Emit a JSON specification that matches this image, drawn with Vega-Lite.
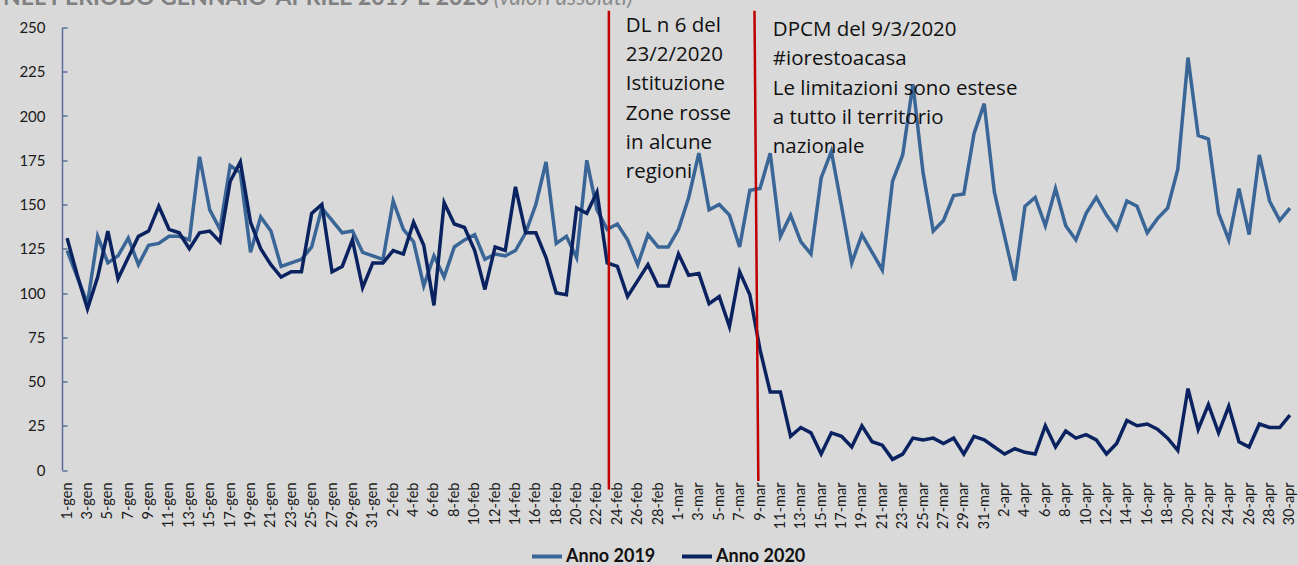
{
  "$schema": "https://vega.github.io/schema/vega-lite/v6.json",
  "width": 1233,
  "height": 442.5,
  "autosize": {"type": "none"},
  "padding": {"left": 62, "top": 27.5, "right": 3, "bottom": 95},
  "background": "#D9D9D9",
  "config": {"view": {"stroke": null}, "font": "Lato", "axisX": {"labelOverlap": false}},
  "datasets": {
    "serie": [
      {"giorno": "2020-01-01", "Anno 2019": 124, "Anno 2020": 131},
      {"giorno": "2020-01-02", "Anno 2019": 109, "Anno 2020": 110},
      {"giorno": "2020-01-03", "Anno 2019": 94, "Anno 2020": 91},
      {"giorno": "2020-01-04", "Anno 2019": 132, "Anno 2020": 109},
      {"giorno": "2020-01-05", "Anno 2019": 117, "Anno 2020": 135},
      {"giorno": "2020-01-06", "Anno 2019": 121, "Anno 2020": 108},
      {"giorno": "2020-01-07", "Anno 2019": 131, "Anno 2020": 120},
      {"giorno": "2020-01-08", "Anno 2019": 116, "Anno 2020": 132},
      {"giorno": "2020-01-09", "Anno 2019": 127, "Anno 2020": 135},
      {"giorno": "2020-01-10", "Anno 2019": 128, "Anno 2020": 149},
      {"giorno": "2020-01-11", "Anno 2019": 132, "Anno 2020": 136},
      {"giorno": "2020-01-12", "Anno 2019": 132, "Anno 2020": 134},
      {"giorno": "2020-01-13", "Anno 2019": 130, "Anno 2020": 125},
      {"giorno": "2020-01-14", "Anno 2019": 177, "Anno 2020": 134},
      {"giorno": "2020-01-15", "Anno 2019": 147, "Anno 2020": 135},
      {"giorno": "2020-01-16", "Anno 2019": 136, "Anno 2020": 129},
      {"giorno": "2020-01-17", "Anno 2019": 172, "Anno 2020": 163},
      {"giorno": "2020-01-18", "Anno 2019": 168, "Anno 2020": 174},
      {"giorno": "2020-01-19", "Anno 2019": 123, "Anno 2020": 140},
      {"giorno": "2020-01-20", "Anno 2019": 143, "Anno 2020": 125},
      {"giorno": "2020-01-21", "Anno 2019": 135, "Anno 2020": 116},
      {"giorno": "2020-01-22", "Anno 2019": 115, "Anno 2020": 109},
      {"giorno": "2020-01-23", "Anno 2019": 117, "Anno 2020": 112},
      {"giorno": "2020-01-24", "Anno 2019": 119, "Anno 2020": 112},
      {"giorno": "2020-01-25", "Anno 2019": 126, "Anno 2020": 145},
      {"giorno": "2020-01-26", "Anno 2019": 148, "Anno 2020": 150},
      {"giorno": "2020-01-27", "Anno 2019": 141, "Anno 2020": 112},
      {"giorno": "2020-01-28", "Anno 2019": 134, "Anno 2020": 115},
      {"giorno": "2020-01-29", "Anno 2019": 135, "Anno 2020": 130},
      {"giorno": "2020-01-30", "Anno 2019": 123, "Anno 2020": 103},
      {"giorno": "2020-01-31", "Anno 2019": 121, "Anno 2020": 117},
      {"giorno": "2020-02-01", "Anno 2019": 119, "Anno 2020": 117},
      {"giorno": "2020-02-02", "Anno 2019": 152, "Anno 2020": 124},
      {"giorno": "2020-02-03", "Anno 2019": 136, "Anno 2020": 122},
      {"giorno": "2020-02-04", "Anno 2019": 129, "Anno 2020": 140},
      {"giorno": "2020-02-05", "Anno 2019": 104, "Anno 2020": 127},
      {"giorno": "2020-02-06", "Anno 2019": 121, "Anno 2020": 93},
      {"giorno": "2020-02-07", "Anno 2019": 109, "Anno 2020": 151},
      {"giorno": "2020-02-08", "Anno 2019": 126, "Anno 2020": 139},
      {"giorno": "2020-02-09", "Anno 2019": 130, "Anno 2020": 137},
      {"giorno": "2020-02-10", "Anno 2019": 133, "Anno 2020": 124},
      {"giorno": "2020-02-11", "Anno 2019": 119, "Anno 2020": 102},
      {"giorno": "2020-02-12", "Anno 2019": 122, "Anno 2020": 126},
      {"giorno": "2020-02-13", "Anno 2019": 121, "Anno 2020": 124},
      {"giorno": "2020-02-14", "Anno 2019": 124, "Anno 2020": 160},
      {"giorno": "2020-02-15", "Anno 2019": 134, "Anno 2020": 134},
      {"giorno": "2020-02-16", "Anno 2019": 150, "Anno 2020": 134},
      {"giorno": "2020-02-17", "Anno 2019": 174, "Anno 2020": 120},
      {"giorno": "2020-02-18", "Anno 2019": 128, "Anno 2020": 100},
      {"giorno": "2020-02-19", "Anno 2019": 132, "Anno 2020": 99},
      {"giorno": "2020-02-20", "Anno 2019": 120, "Anno 2020": 148},
      {"giorno": "2020-02-21", "Anno 2019": 175, "Anno 2020": 145},
      {"giorno": "2020-02-22", "Anno 2019": 147, "Anno 2020": 157},
      {"giorno": "2020-02-23", "Anno 2019": 136, "Anno 2020": 117},
      {"giorno": "2020-02-24", "Anno 2019": 139, "Anno 2020": 115},
      {"giorno": "2020-02-25", "Anno 2019": 130, "Anno 2020": 98},
      {"giorno": "2020-02-26", "Anno 2019": 116, "Anno 2020": 107},
      {"giorno": "2020-02-27", "Anno 2019": 133, "Anno 2020": 116},
      {"giorno": "2020-02-28", "Anno 2019": 126, "Anno 2020": 104},
      {"giorno": "2020-02-29", "Anno 2019": 126, "Anno 2020": 104},
      {"giorno": "2020-03-01", "Anno 2019": 136, "Anno 2020": 122},
      {"giorno": "2020-03-02", "Anno 2019": 154, "Anno 2020": 110},
      {"giorno": "2020-03-03", "Anno 2019": 179, "Anno 2020": 111},
      {"giorno": "2020-03-04", "Anno 2019": 147, "Anno 2020": 94},
      {"giorno": "2020-03-05", "Anno 2019": 150, "Anno 2020": 98},
      {"giorno": "2020-03-06", "Anno 2019": 144, "Anno 2020": 81},
      {"giorno": "2020-03-07", "Anno 2019": 126, "Anno 2020": 112},
      {"giorno": "2020-03-08", "Anno 2019": 158, "Anno 2020": 99},
      {"giorno": "2020-03-09", "Anno 2019": 159, "Anno 2020": 68},
      {"giorno": "2020-03-10", "Anno 2019": 179, "Anno 2020": 44},
      {"giorno": "2020-03-11", "Anno 2019": 132, "Anno 2020": 44},
      {"giorno": "2020-03-12", "Anno 2019": 144, "Anno 2020": 19},
      {"giorno": "2020-03-13", "Anno 2019": 129, "Anno 2020": 24},
      {"giorno": "2020-03-14", "Anno 2019": 122, "Anno 2020": 21},
      {"giorno": "2020-03-15", "Anno 2019": 165, "Anno 2020": 9},
      {"giorno": "2020-03-16", "Anno 2019": 180, "Anno 2020": 21},
      {"giorno": "2020-03-17", "Anno 2019": 149, "Anno 2020": 19},
      {"giorno": "2020-03-18", "Anno 2019": 117, "Anno 2020": 13},
      {"giorno": "2020-03-19", "Anno 2019": 133, "Anno 2020": 25},
      {"giorno": "2020-03-20", "Anno 2019": 123, "Anno 2020": 16},
      {"giorno": "2020-03-21", "Anno 2019": 113, "Anno 2020": 14},
      {"giorno": "2020-03-22", "Anno 2019": 163, "Anno 2020": 6},
      {"giorno": "2020-03-23", "Anno 2019": 178, "Anno 2020": 9},
      {"giorno": "2020-03-24", "Anno 2019": 218, "Anno 2020": 18},
      {"giorno": "2020-03-25", "Anno 2019": 168, "Anno 2020": 17},
      {"giorno": "2020-03-26", "Anno 2019": 135, "Anno 2020": 18},
      {"giorno": "2020-03-27", "Anno 2019": 141, "Anno 2020": 15},
      {"giorno": "2020-03-28", "Anno 2019": 155, "Anno 2020": 18},
      {"giorno": "2020-03-29", "Anno 2019": 156, "Anno 2020": 9},
      {"giorno": "2020-03-30", "Anno 2019": 190, "Anno 2020": 19},
      {"giorno": "2020-03-31", "Anno 2019": 207, "Anno 2020": 17},
      {"giorno": "2020-04-01", "Anno 2019": 157, "Anno 2020": 13},
      {"giorno": "2020-04-02", "Anno 2019": 132, "Anno 2020": 9},
      {"giorno": "2020-04-03", "Anno 2019": 107, "Anno 2020": 12},
      {"giorno": "2020-04-04", "Anno 2019": 149, "Anno 2020": 10},
      {"giorno": "2020-04-05", "Anno 2019": 154, "Anno 2020": 9},
      {"giorno": "2020-04-06", "Anno 2019": 138, "Anno 2020": 25},
      {"giorno": "2020-04-07", "Anno 2019": 159, "Anno 2020": 13},
      {"giorno": "2020-04-08", "Anno 2019": 138, "Anno 2020": 22},
      {"giorno": "2020-04-09", "Anno 2019": 130, "Anno 2020": 18},
      {"giorno": "2020-04-10", "Anno 2019": 145, "Anno 2020": 20},
      {"giorno": "2020-04-11", "Anno 2019": 154, "Anno 2020": 17},
      {"giorno": "2020-04-12", "Anno 2019": 144, "Anno 2020": 9},
      {"giorno": "2020-04-13", "Anno 2019": 136, "Anno 2020": 15},
      {"giorno": "2020-04-14", "Anno 2019": 152, "Anno 2020": 28},
      {"giorno": "2020-04-15", "Anno 2019": 149, "Anno 2020": 25},
      {"giorno": "2020-04-16", "Anno 2019": 134, "Anno 2020": 26},
      {"giorno": "2020-04-17", "Anno 2019": 142, "Anno 2020": 23},
      {"giorno": "2020-04-18", "Anno 2019": 148, "Anno 2020": 18},
      {"giorno": "2020-04-19", "Anno 2019": 170, "Anno 2020": 11},
      {"giorno": "2020-04-20", "Anno 2019": 233, "Anno 2020": 46},
      {"giorno": "2020-04-21", "Anno 2019": 189, "Anno 2020": 23},
      {"giorno": "2020-04-22", "Anno 2019": 187, "Anno 2020": 37},
      {"giorno": "2020-04-23", "Anno 2019": 145, "Anno 2020": 21},
      {"giorno": "2020-04-24", "Anno 2019": 130, "Anno 2020": 36},
      {"giorno": "2020-04-25", "Anno 2019": 159, "Anno 2020": 16},
      {"giorno": "2020-04-26", "Anno 2019": 133, "Anno 2020": 13},
      {"giorno": "2020-04-27", "Anno 2019": 178, "Anno 2020": 26},
      {"giorno": "2020-04-28", "Anno 2019": 152, "Anno 2020": 24},
      {"giorno": "2020-04-29", "Anno 2019": 141, "Anno 2020": 24},
      {"giorno": "2020-04-30", "Anno 2019": 148, "Anno 2020": 31}
    ],
    "eventi": [
      {"x": "2020-02-23T04:00:00Z", "x2": "2020-02-23T04:00:00Z", "y": 259.5, "y2": -11},
      {"x": "2020-03-08T11:00:00Z", "x2": "2020-03-08T20:00:00Z", "y": 259.5, "y2": -6.2}
    ],
    "note": [
      {"x": "2020-02-24T20:00:00Z", "y": 247.6, "testo": "DL n 6 del\n23/2/2020\nIstituzione\nZone rosse\nin alcune\nregioni"},
      {"x": "2020-03-10T06:00:00Z", "y": 245.2, "testo": "DPCM del 9/3/2020\n#iorestoacasa\nLe limitazioni sono estese\na tutto il territorio\nnazionale"}
    ],
    "titolo": [
      {"x": "2020-02-11T10:00:00Z", "y": 262.7, "testo": "NEL PERIODO GENNAIO-APRILE 2019 E 2020"}
    ],
    "sottotitolo": [
      {"x": "2020-02-11T21:00:00Z", "y": 262.7, "testo": "(valori assoluti)"}
    ]
  },
  "layer": [
    {
      "data": {"name": "serie"},
      "transform": [{"fold": ["Anno 2019", "Anno 2020"], "as": ["serie", "valore"]}],
      "mark": {"type": "line", "strokeWidth": 3.5},
      "encoding": {
        "x": {
          "field": "giorno",
          "type": "temporal",
          "title": null,
          "scale": {
            "type": "utc",
            "domain": [
              {"year": 2019, "month": 12, "date": 31, "hours": 12, "utc": true},
              {"year": 2020, "month": 4, "date": 30, "hours": 12, "utc": true}
            ]
          },
          "axis": {
            "values": [
              {"year": 2020, "month": 1, "date": 1, "utc": true},
              {"year": 2020, "month": 1, "date": 3, "utc": true},
              {"year": 2020, "month": 1, "date": 5, "utc": true},
              {"year": 2020, "month": 1, "date": 7, "utc": true},
              {"year": 2020, "month": 1, "date": 9, "utc": true},
              {"year": 2020, "month": 1, "date": 11, "utc": true},
              {"year": 2020, "month": 1, "date": 13, "utc": true},
              {"year": 2020, "month": 1, "date": 15, "utc": true},
              {"year": 2020, "month": 1, "date": 17, "utc": true},
              {"year": 2020, "month": 1, "date": 19, "utc": true},
              {"year": 2020, "month": 1, "date": 21, "utc": true},
              {"year": 2020, "month": 1, "date": 23, "utc": true},
              {"year": 2020, "month": 1, "date": 25, "utc": true},
              {"year": 2020, "month": 1, "date": 27, "utc": true},
              {"year": 2020, "month": 1, "date": 29, "utc": true},
              {"year": 2020, "month": 1, "date": 31, "utc": true},
              {"year": 2020, "month": 2, "date": 2, "utc": true},
              {"year": 2020, "month": 2, "date": 4, "utc": true},
              {"year": 2020, "month": 2, "date": 6, "utc": true},
              {"year": 2020, "month": 2, "date": 8, "utc": true},
              {"year": 2020, "month": 2, "date": 10, "utc": true},
              {"year": 2020, "month": 2, "date": 12, "utc": true},
              {"year": 2020, "month": 2, "date": 14, "utc": true},
              {"year": 2020, "month": 2, "date": 16, "utc": true},
              {"year": 2020, "month": 2, "date": 18, "utc": true},
              {"year": 2020, "month": 2, "date": 20, "utc": true},
              {"year": 2020, "month": 2, "date": 22, "utc": true},
              {"year": 2020, "month": 2, "date": 24, "utc": true},
              {"year": 2020, "month": 2, "date": 26, "utc": true},
              {"year": 2020, "month": 2, "date": 28, "utc": true},
              {"year": 2020, "month": 3, "date": 1, "utc": true},
              {"year": 2020, "month": 3, "date": 3, "utc": true},
              {"year": 2020, "month": 3, "date": 5, "utc": true},
              {"year": 2020, "month": 3, "date": 7, "utc": true},
              {"year": 2020, "month": 3, "date": 9, "utc": true},
              {"year": 2020, "month": 3, "date": 11, "utc": true},
              {"year": 2020, "month": 3, "date": 13, "utc": true},
              {"year": 2020, "month": 3, "date": 15, "utc": true},
              {"year": 2020, "month": 3, "date": 17, "utc": true},
              {"year": 2020, "month": 3, "date": 19, "utc": true},
              {"year": 2020, "month": 3, "date": 21, "utc": true},
              {"year": 2020, "month": 3, "date": 23, "utc": true},
              {"year": 2020, "month": 3, "date": 25, "utc": true},
              {"year": 2020, "month": 3, "date": 27, "utc": true},
              {"year": 2020, "month": 3, "date": 29, "utc": true},
              {"year": 2020, "month": 3, "date": 31, "utc": true},
              {"year": 2020, "month": 4, "date": 2, "utc": true},
              {"year": 2020, "month": 4, "date": 4, "utc": true},
              {"year": 2020, "month": 4, "date": 6, "utc": true},
              {"year": 2020, "month": 4, "date": 8, "utc": true},
              {"year": 2020, "month": 4, "date": 10, "utc": true},
              {"year": 2020, "month": 4, "date": 12, "utc": true},
              {"year": 2020, "month": 4, "date": 14, "utc": true},
              {"year": 2020, "month": 4, "date": 16, "utc": true},
              {"year": 2020, "month": 4, "date": 18, "utc": true},
              {"year": 2020, "month": 4, "date": 20, "utc": true},
              {"year": 2020, "month": 4, "date": 22, "utc": true},
              {"year": 2020, "month": 4, "date": 24, "utc": true},
              {"year": 2020, "month": 4, "date": 26, "utc": true},
              {"year": 2020, "month": 4, "date": 28, "utc": true},
              {"year": 2020, "month": 4, "date": 30, "utc": true}
            ],
            "tickCount": 200,
            "labelExpr": "utcFormat(datum.value, '%-d') + '-' + ['gen','feb','mar','apr'][utcmonth(datum.value)]",
            "labelAngle": 270,
            "labelFont": "Lato",
            "labelFontSize": 14.5,
            "labelColor": "#1A1A1A",
            "labelPadding": 12,
            "labelOverlap": false,
            "labelBound": false,
            "labelFlush": false,
            "ticks": false,
            "domain": false,
            "grid": false,
            "title": null
          }
        },
        "y": {
          "field": "valore",
          "type": "quantitative",
          "title": null,
          "scale": {"domain": [0, 250], "nice": false},
          "axis": {
            "values": [0, 25, 50, 75, 100, 125, 150, 175, 200, 225, 250],
            "domainColor": "#5A6C9C",
            "domainWidth": 1.5,
            "tickColor": "#5A6C9C",
            "tickWidth": 1.5,
            "tickSize": -5,
            "labelFont": "Lato",
            "labelFontSize": 15,
            "labelColor": "#1A1A1A",
            "labelPadding": 22,
            "grid": false,
            "title": null
          }
        },
        "color": {
          "field": "serie",
          "type": "nominal",
          "scale": {"domain": ["Anno 2019", "Anno 2020"], "range": ["#3A6597", "#0A2360"]},
          "legend": {
            "orient": "none",
            "legendX": 468,
            "legendY": 512,
            "direction": "horizontal",
            "title": null,
            "padding": 0,
            "labelFont": "Lato",
            "labelFontSize": 18,
            "labelFontWeight": "bold",
            "labelColor": "#111111",
            "symbolType": "stroke",
            "symbolSize": 900,
            "symbolStrokeWidth": 4,
            "labelOffset": 2,
            "columnPadding": 18
          }
        }
      }
    },
    {
      "data": {"name": "eventi"},
      "mark": {"type": "rule", "color": "#C00000", "strokeWidth": 2.5},
      "encoding": {
        "x": {"field": "x", "type": "temporal", "title": null},
        "x2": {"field": "x2"},
        "y": {"field": "y", "type": "quantitative", "title": null},
        "y2": {"field": "y2"}
      }
    },
    {
      "data": {"name": "note"},
      "mark": {"type": "text", "align": "left", "baseline": "alphabetic", "font": "Open Sans", "fontSize": 20.5, "lineHeight": 29.3, "lineBreak": "\n", "color": "#111111"},
      "encoding": {
        "x": {"field": "x", "type": "temporal", "title": null},
        "y": {"field": "y", "type": "quantitative", "title": null},
        "text": {"field": "testo"}
      }
    },
    {
      "data": {"name": "titolo"},
      "mark": {"type": "text", "align": "right", "baseline": "alphabetic", "font": "Lato", "fontSize": 23, "fontWeight": "bold", "color": "#808080"},
      "encoding": {
        "x": {"field": "x", "type": "temporal", "title": null},
        "y": {"field": "y", "type": "quantitative", "title": null},
        "text": {"field": "testo"}
      }
    },
    {
      "data": {"name": "sottotitolo"},
      "mark": {"type": "text", "align": "left", "baseline": "alphabetic", "font": "Lato", "fontSize": 22.5, "fontStyle": "italic", "color": "#8C8C8C"},
      "encoding": {
        "x": {"field": "x", "type": "temporal", "title": null},
        "y": {"field": "y", "type": "quantitative", "title": null},
        "text": {"field": "testo"}
      }
    }
  ]
}
